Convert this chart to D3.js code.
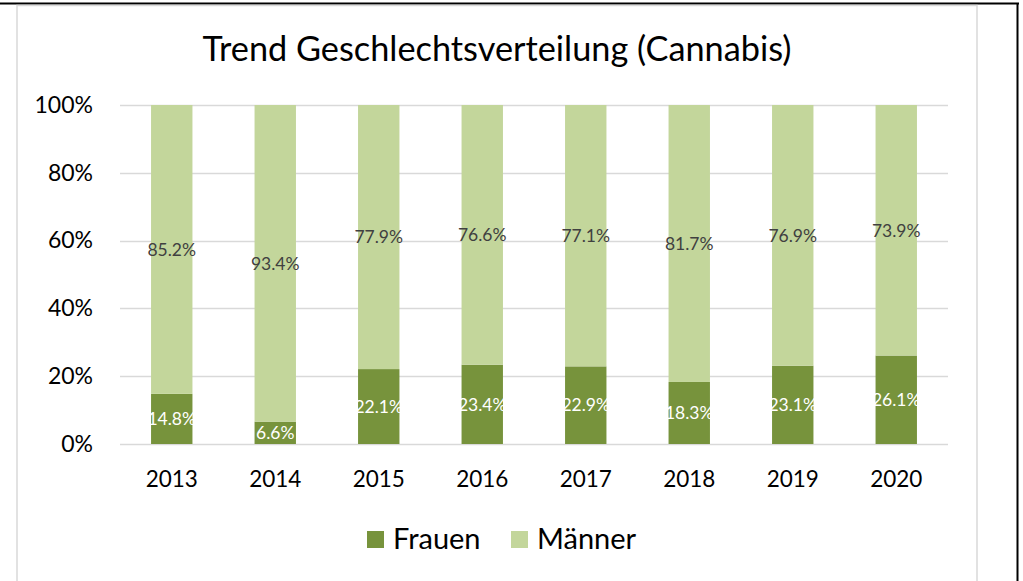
<!DOCTYPE html>
<html>
<head>
<meta charset="utf-8">
<script src="https://cdn.jsdelivr.net/npm/d3@7"></script>
<style>
  body { margin: 0; background: #fff; }
  svg { display: block; }
</style>
</head>
<body>
<div id="chart"></div>
<script>
// Trend Geschlechtsverteilung (Cannabis) - gestapelte 100%-Säulen
const years = ['2013', '2014', '2015', '2016', '2017', '2018', '2019', '2020'];
const frauen = [14.8, 6.6, 22.1, 23.4, 22.9, 18.3, 23.1, 26.1];
const maenner = [85.2, 93.4, 77.9, 76.6, 77.1, 81.7, 76.9, 73.9];
const yTicks = [0, 20, 40, 60, 80, 100];
const seriesNames = ['Frauen', 'Männer'];

const W = 1023, H = 581;
const font = 'Lato, "Noto Sans", sans-serif';
const colors = { 'Frauen': '#77933c', 'Männer': '#c3d69b' };

const svg = d3.select('#chart').append('svg')
    .attr('width', W).attr('height', H)
    .attr('viewBox', `0 0 ${W} ${H}`);

svg.append('rect').attr('width', W).attr('height', H).attr('fill', '#fff');

// Rahmen (Screenshot-Kante oben/rechts)
svg.append('line').attr('x1', 0).attr('x2', 1019).attr('y1', 3.5).attr('y2', 3.5)
    .attr('stroke', '#000').attr('stroke-width', 2);
svg.append('line').attr('x1', 1017.5).attr('x2', 1017.5).attr('y1', 3).attr('y2', H)
    .attr('stroke', '#000').attr('stroke-width', 2);

// Diagrammbereich
svg.append('rect').attr('x', 17).attr('y', 5.5).attr('width', 960).attr('height', H + 10)
    .attr('fill', '#fff').attr('stroke', '#d9d9d9').attr('stroke-width', 1.5);

const x = d3.scaleBand().domain(years).range([120, 948]).paddingInner(0.6).paddingOuter(0.3);
const y = d3.scaleLinear().domain([0, 100]).range([444, 105]);

// Gitterlinien
svg.append('g').selectAll('line').data(yTicks).join('line')
    .attr('x1', 120).attr('x2', 948)
    .attr('y1', d => Math.round(y(d)) + 0.5).attr('y2', d => Math.round(y(d)) + 0.5)
    .attr('stroke', '#d9d9d9').attr('stroke-width', 1.3);

// Y-Achse
const yAxis = svg.append('g').attr('transform', 'translate(93,0)')
    .call(d3.axisLeft(y).tickValues(yTicks).tickSize(0).tickPadding(0).tickFormat(d => d + '%'));
yAxis.select('.domain').remove();
yAxis.selectAll('text').attr('font-family', font).attr('font-size', 23).attr('fill', '#000');

// X-Achse
const xAxis = svg.append('g').attr('transform', 'translate(0,444)')
    .call(d3.axisBottom(x).tickSize(0).tickPadding(27));
xAxis.select('.domain').remove();
xAxis.selectAll('text').attr('font-family', font).attr('font-size', 22.5).attr('fill', '#000');

// Stapel
const rows = years.map((yr, i) => ({ year: yr, 'Frauen': frauen[i], 'Männer': maenner[i] }));
const stacked = d3.stack().keys(seriesNames)(rows);

const groups = svg.append('g').selectAll('g').data(stacked).join('g')
    .attr('fill', d => colors[d.key]);

groups.selectAll('rect').data(d => d).join('rect')
    .attr('x', d => x(d.data.year))
    .attr('width', x.bandwidth())
    .attr('y', d => y(d[1]))
    .attr('height', d => y(d[0]) - y(d[1]));

// Datenbeschriftungen
groups.each(function(s) {
    d3.select(this).selectAll('text').data(s).join('text')
        .attr('x', d => x(d.data.year) + x.bandwidth() / 2)
        .attr('y', d => y((d[0] + d[1]) / 2))
        .attr('dy', '0.36em')
        .attr('text-anchor', 'middle')
        .attr('font-family', font)
        .attr('font-size', 17.5)
        .attr('fill', s.key === 'Frauen' ? '#fff' : '#404040')
        .text(d => d.data[s.key].toFixed(1) + '%');
});

// Titel
svg.append('text').attr('x', 497).attr('y', 61).attr('text-anchor', 'middle')
    .attr('font-family', font).attr('font-size', 34.3).attr('fill', '#000')
    .text('Trend Geschlechtsverteilung (Cannabis)');

// Legende
const legendX = [367, 511];
const legend = svg.append('g').selectAll('g').data(seriesNames).join('g')
    .attr('transform', (d, i) => `translate(${legendX[i]},531)`);
legend.append('rect').attr('width', 17).attr('height', 17).attr('fill', d => colors[d]);
legend.append('text').attr('x', 26).attr('y', 18)
    .attr('font-family', font).attr('font-size', 29).attr('fill', '#000')
    .text(d => d);
</script>
</body>
</html>
